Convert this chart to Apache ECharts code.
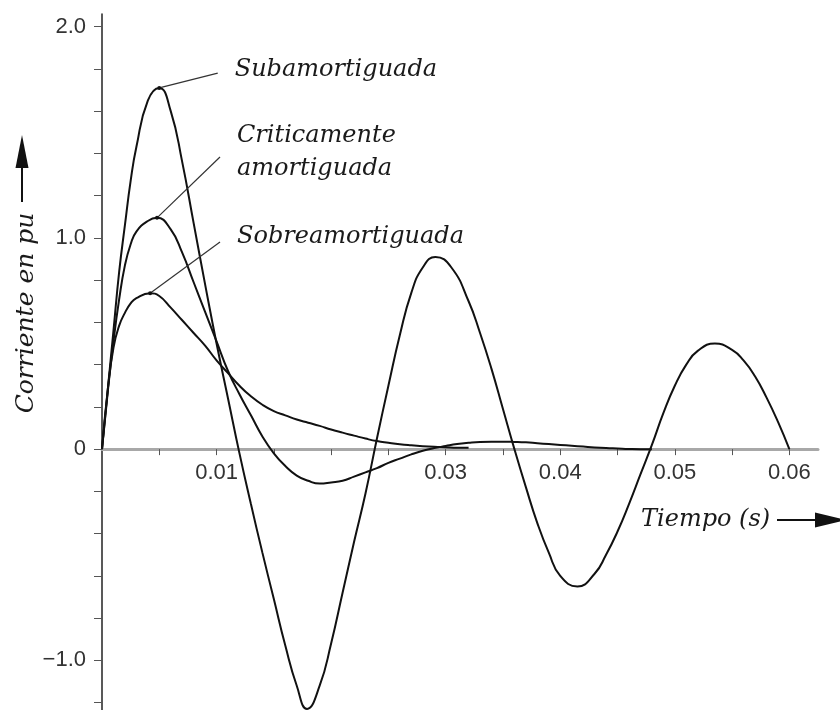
<!DOCTYPE html>
<html><head><meta charset="utf-8">
<script src="https://cdn.jsdelivr.net/npm/echarts@6/dist/echarts.min.js"></script>
<style>html,body{margin:0;padding:0;background:#fff}#c{width:840px;height:710px}</style>
</head><body><div id="c"></div>
<script>
// Subamortiguada: time (s) and current (pu)
const subTime = [0,0.0005,0.001,0.0015,0.002,0.0025,0.003,
  0.004,0.005,0.006,0.007,0.008,0.009,0.010,0.011,0.012,0.013,
  0.014,0.015,0.016,0.017,0.0179,0.019,0.020,0.021,0.022,0.023,
  0.024,0.025,0.026,0.027,0.028,0.0291,0.0305,0.032,0.033,
  0.034,0.035,0.036,0.037,0.038,0.039,0.040,0.0415,
  0.043,0.044,0.045,0.046,0.047,0.048,0.049,0.050,0.051,0.052,0.0535,
  0.055,0.056,0.057,0.058,0.059,0.060];
const subValues = [0,0.28,0.56,0.84,1.06,1.27,1.43,
  1.65,1.71,1.60,1.36,1.07,0.78,0.50,0.24,-0.02,-0.26,
  -0.49,-0.71,-0.93,-1.12,-1.23,-1.12,-0.92,-0.68,-0.44,-0.21,
  0.05,0.30,0.54,0.74,0.86,0.91,0.86,0.70,0.55,
  0.38,0.19,0.00,-0.18,-0.35,-0.49,-0.60,-0.65,
  -0.59,-0.50,-0.39,-0.26,-0.12,0.02,0.17,0.30,0.40,0.465,0.50,
  0.47,0.42,0.345,0.245,0.13,0];

// Criticamente amortiguada
const critTime = [0,0.0005,0.001,0.0015,0.002,0.0025,0.003,0.004,0.0048,
  0.006,0.007,0.008,0.009,0.010,0.011,0.012,0.013,0.014,0.015,
  0.016,0.017,0.018,0.019,0.020,0.021,0.022,0.023,0.024,0.025,
  0.026,0.027,0.028,0.029,0.030,0.031,0.032,0.033,0.034,0.035,
  0.036,0.037,0.038,0.039,0.040,0.041,0.042,0.043,0.044,0.045,
  0.046,0.047,0.048];
const critValues = [0,0.27,0.51,0.71,0.87,0.97,1.03,1.08,1.095,
  1.04,0.93,0.79,0.65,0.51,0.37,0.26,0.16,0.06,-0.02,
  -0.08,-0.125,-0.15,-0.163,-0.158,-0.15,-0.13,-0.11,-0.09,-0.065,
  -0.045,-0.025,-0.008,0.005,0.015,0.024,0.030,0.034,0.035,0.035,
  0.034,0.032,0.028,0.024,0.020,0.016,0.012,0.008,0.005,0.003,
  0.001,0,0];

// Sobreamortiguada
const sobreTime = [0,0.0005,0.001,0.0015,0.002,0.0025,0.003,0.0042,0.005,
  0.006,0.007,0.008,0.009,0.010,0.011,0.012,0.013,0.014,0.015,
  0.016,0.017,0.018,0.019,0.020,0.021,0.022,0.023,0.024,0.025,
  0.026,0.027,0.028,0.029,0.030,0.031,0.032];
const sobreValues = [0,0.28,0.48,0.585,0.645,0.69,0.715,0.738,0.725,
  0.67,0.61,0.55,0.49,0.42,0.36,0.30,0.25,0.21,0.18,
  0.16,0.14,0.125,0.11,0.093,0.078,0.064,0.05,0.038,0.03,
  0.023,0.018,0.014,0.011,0.009,0.007,0.006];

// Axis ticks and labels
const xTickValues = [0.005,0.01,0.015,0.02,0.025,0.03,0.035,0.04,0.045,0.05,0.055,0.06];
const xLabelValues = [0.01,0.03,0.04,0.05,0.06];
const yTickValues = [-1.2,-1.0,-0.8,-0.6,-0.4,-0.2,0,0.2,0.4,0.6,0.8,1.0,1.2,1.4,1.6,1.8,2.0];
const yLabelValues = [-1.0,0,1.0,2.0];

// Annotation leaders: [peak point, label anchor] in data units
const leaderSub = [[0.005,1.71],[0.0101,1.78]];
const leaderCrit = [[0.0048,1.095],[0.0103,1.383]];
const leaderSobre = [[0.0042,0.738],[0.0103,0.981]];
const labelSub = 'Subamortiguada';
const labelCrit = 'Criticamente\namortiguada';
const labelSobre = 'Sobreamortiguada';

const serif = '"DejaVu Serif", serif';
const sans = '"Liberation Sans", Arial, sans-serif';
const curveColor = '#111';
const yMin = -1.235, yMax = 2.06;
const gridTop = 14, gridHeight = 696;
// pixel distance from grid top to the zero line, derived from the axis extent
const zeroOffset = gridHeight * yMax / (yMax - yMin);

function pairs(ts, vals){ return vals.map((v,i)=>[ts[i], v]); }
function curve(name, ts, vals){
  return {type:'line', name:name, data:pairs(ts, vals), symbol:'none', smooth:0.5,
    lineStyle:{color:curveColor, width:2}, silent:true, z:3};
}
function leader(pts, text, off){
  return {type:'line', data:[{value:pts[0], symbol:'circle', symbolSize:4},{value:pts[1], symbol:'none'}],
    lineStyle:{color:'#333', width:1.2}, itemStyle:{color:'#111'}, silent:true, z:4,
    endLabel:{show:true, formatter:()=>text, distance:17, offset:off, align:'left', verticalAlign:'middle',
      fontFamily:serif, fontStyle:'italic', fontSize:24, lineHeight:33, color:'#1a1a1a'}};
}

const chart = echarts.init(document.getElementById('c'), null, {renderer:'canvas'});
chart.setOption({
  animation:false,
  backgroundColor:'#fff',
  grid:{left:102, right:22, top:gridTop, height:gridHeight, containLabel:false, outerBoundsMode:'none'},
  xAxis:{type:'value', min:0, max:0.0625, position:'top', offset:-zeroOffset,
    axisLine:{onZero:false, lineStyle:{color:'#a8a8a8', width:3}},
    axisTick:{show:true, inside:true, customValues:xTickValues, length:6, lineStyle:{color:'#555', width:1}},
    axisLabel:{inside:true, customValues:xLabelValues, formatter:v=>v.toFixed(2), fontFamily:sans, fontSize:22, color:'#333', margin:13},
    splitLine:{show:false}},
  yAxis:{type:'value', min:yMin, max:yMax,
    axisLine:{show:true, onZero:false, lineStyle:{color:'#222', width:1.5}},
    axisTick:{show:true, customValues:yTickValues, length:8, lineStyle:{color:'#555', width:1}},
    axisLabel:{customValues:yLabelValues, formatter:v=> v===0 ? '0' : (v<0?'\u2212':'') + Math.abs(v).toFixed(1),
      fontFamily:sans, fontSize:22, color:'#333', margin:16},
    splitLine:{show:false}},
  series:[
    curve('Subamortiguada', subTime, subValues),
    curve('Criticamente amortiguada', critTime, critValues),
    curve('Sobreamortiguada', sobreTime, sobreValues),
    leader(leaderSub, labelSub, [0,-3]),
    leader(leaderCrit, labelCrit, [0,-5]),
    leader(leaderSobre, labelSobre, [0,-5])
  ],
  graphic:[
    {type:'text', x:26, y:313, rotation:Math.PI/2,
      style:{text:'Corriente en pu', font:'italic 25px "DejaVu Serif", serif', fill:'#1a1a1a', align:'center', verticalAlign:'middle'}},
    {type:'line', shape:{x1:22, y1:202, x2:22, y2:160}, style:{stroke:'#111', lineWidth:2}},
    {type:'polygon', shape:{points:[[22,135],[15.5,168],[28.5,168]]}, style:{fill:'#111'}},
    {type:'text', x:641, y:520,
      style:{text:'Tiempo (s)', font:'italic 24px "DejaVu Serif", serif', fill:'#1a1a1a', align:'left', verticalAlign:'middle'}},
    {type:'line', shape:{x1:777, y1:520, x2:820, y2:520}, style:{stroke:'#111', lineWidth:2}},
    {type:'polygon', shape:{points:[[815,512.5],[846,520],[815,527.5]]}, style:{fill:'#111'}}
  ]
});
</script></body></html>
